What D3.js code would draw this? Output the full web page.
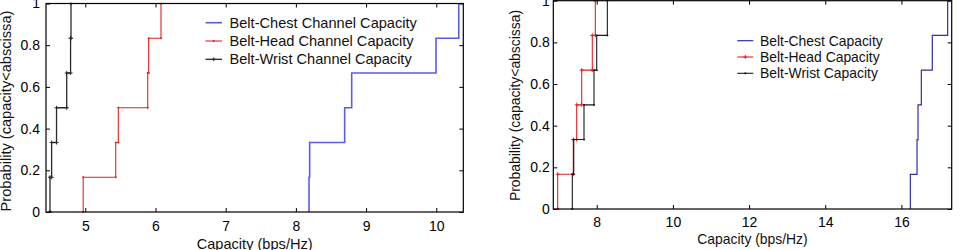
<!DOCTYPE html>
<html>
<head>
<meta charset="utf-8">
<script src="https://cdn.jsdelivr.net/npm/d3@7/dist/d3.min.js"></script>
<style>
  html, body { margin: 0; padding: 0; background: #fff; }
  svg { display: block; font-family: "Liberation Sans", Arial, Helvetica, sans-serif; }
</style>
</head>
<body>
<svg id="chart" width="960" height="250"></svg>
<script>
// ---- Data ----
const probLevels = [0, 0.1667, 0.3333, 0.5, 0.6667, 0.8333, 1];

const leftSeriesNames = ["Belt-Chest Channel Capacity", "Belt-Head Channel Capacity", "Belt-Wrist Channel Capacity"];
const leftChest = [8.187, 8.196, 8.695, 8.795, 9.996, 10.32];
const leftHead  = [4.97, 5.433, 5.47, 5.889, 5.903, 6.078];
const leftWrist = [4.497, 4.52, 4.59, 4.735, 4.79, 4.796];

const rightSeriesNames = ["Belt-Chest Capacity", "Belt-Head Capacity", "Belt-Wrist Capacity"];
const rightChest = [16.234, 16.41, 16.436, 16.523, 16.81, 17.214];
const rightHead  = [6.975, 7.385, 7.474, 7.606, 7.884, 7.963];
const rightWrist = [7.359, 7.396, 7.666, 7.929, 8.0, 8.279];

const leftXTicks = [5, 6, 7, 8, 9, 10];
const rightXTicks = [8, 10, 12, 14, 16];
const yTicks = [0, 0.2, 0.4, 0.6, 0.8, 1];
const yTickLabels = ["0", "0.2", "0.4", "0.6", "0.8", "1"];
const xAxisTitle = "Capacity (bps/Hz)";
const yAxisTitle = "Probability (capacity<abscissa)";

// ---- Drawing ----
const svg = d3.select("#chart");

function stepPoints(vals) {
  const pts = [[vals[0], probLevels[0]]];
  vals.forEach((v, i) => {
    pts.push([v, probLevels[i]]);
    pts.push([v, probLevels[i + 1]]);
  });
  return pts;
}

function drawPanel(cfg) {
  const x = d3.scaleLinear().domain(cfg.xDomain).range([cfg.x0, cfg.x1]);
  const y = d3.scaleLinear().domain([0, 1]).range([cfg.y0, cfg.y1]);
  const g = svg.append("g");
  const clipId = "clip" + cfg.id;
  svg.append("defs").append("clipPath").attr("id", clipId)
    .append("rect").attr("x", cfg.x0).attr("y", cfg.y1 - 1)
    .attr("width", cfg.x1 - cfg.x0).attr("height", cfg.y0 - cfg.y1 + 2);

  // axes with inward ticks
  const ax = (axis, tr) => {
    const a = g.append("g").attr("transform", tr).call(axis);
    a.select(".domain").remove();
    a.selectAll(".tick line").attr("stroke", "#000").attr("stroke-width", 1);
    a.selectAll("text").attr("fill", "#000").attr("font-size", cfg.tickFont + "px")
      .attr("font-family", "Liberation Sans, Arial, sans-serif");
    return a;
  };
  ax(d3.axisBottom(x).tickValues(cfg.xTicks).tickFormat(d3.format("d"))
      .tickSizeInner(-4).tickSizeOuter(0).tickPadding(cfg.xPad),
     `translate(0,${cfg.y0})`);
  ax(d3.axisTop(x).tickValues(cfg.xTicks).tickFormat("")
      .tickSizeInner(-4).tickSizeOuter(0), `translate(0,${cfg.y1})`);
  ax(d3.axisLeft(y).tickValues(yTicks).tickFormat((d, i) => yTickLabels[i])
      .tickSizeInner(-4).tickSizeOuter(0).tickPadding(cfg.yPad),
     `translate(${cfg.x0},0)`);
  ax(d3.axisRight(y).tickValues(yTicks).tickFormat("")
      .tickSizeInner(-4).tickSizeOuter(0), `translate(${cfg.x1},0)`);

  // series
  const line = d3.line().x(d => x(d[0])).y(d => y(d[1]));
  const sg = g.append("g").attr("clip-path", `url(#${clipId})`);
  cfg.series.forEach(s => {
    const pts = stepPoints(s.values);
    sg.append("path").attr("d", line(pts)).attr("fill", "none")
      .attr("stroke", s.color).attr("stroke-width", s.width);
    if (s.marker) {
      pts.slice(1).forEach(p => {
        const px = x(p[0]), py = y(p[1]);
        const m = s.marker;
        sg.append("path")
          .attr("d", `M${px - m},${py}H${px + m}M${px},${py - m}V${py + m}`)
          .attr("stroke", s.color).attr("stroke-width", 1);
      });
    }
  });

  // frame
  g.append("rect").attr("x", cfg.x0).attr("y", cfg.y1)
    .attr("width", cfg.x1 - cfg.x0).attr("height", cfg.y0 - cfg.y1)
    .attr("fill", "none").attr("stroke", "#000").attr("stroke-width", 1.2);

  // legend
  cfg.series.forEach((s, i) => {
    const ly = cfg.legY + i * cfg.legStep;
    g.append("line").attr("x1", cfg.legX).attr("x2", cfg.legX + cfg.legLen)
      .attr("y1", ly).attr("y2", ly).attr("stroke", s.color).attr("stroke-width", s.width);
    if (s.marker) {
      const mx = cfg.legX + cfg.legLen / 2, m = s.marker;
      g.append("path").attr("d", `M${mx - m},${ly}H${mx + m}M${mx},${ly - m}V${ly + m}`)
        .attr("stroke", s.color).attr("stroke-width", 1);
    }
    g.append("text").attr("x", cfg.legX + cfg.legLen + cfg.legGap).attr("y", ly + 5)
      .attr("font-size", cfg.legFont + "px").attr("fill", "#111").text(s.name);
  });

  // axis titles
  g.append("text").attr("x", (cfg.x0 + cfg.x1) / 2).attr("y", cfg.xTitleY)
    .attr("text-anchor", "middle").attr("font-size", cfg.titleFont + "px")
    .attr("fill", "#111").text(xAxisTitle);
  g.append("text").attr("transform", `translate(${cfg.yTitleX},${cfg.yTitleCY}) rotate(-90)`)
    .attr("text-anchor", "middle").attr("font-size", cfg.titleFont + "px")
    .attr("fill", "#111").text(yAxisTitle);
}

drawPanel({
  id: "L", xDomain: [4.44, 10.385], x0: 46, x1: 463.3, y0: 212, y1: 3.5,
  xTicks: leftXTicks, tickFont: 14, xPad: 9.5, yPad: 6,
  series: [
    { name: leftSeriesNames[0], values: leftChest, color: "#5b5bea", width: 1.6, marker: 0 },
    { name: leftSeriesNames[1], values: leftHead, color: "#e02424", width: 1.1, marker: 1 },
    { name: leftSeriesNames[2], values: leftWrist, color: "#2a2a2a", width: 1.3, marker: 2 }
  ],
  legX: 205.5, legLen: 16.5, legGap: 7.5, legY: 22.7, legStep: 18.3, legFont: 14.6,
  titleFont: 14.6, xTitleY: 249, yTitleX: 11, yTitleCY: 111
});

drawPanel({
  id: "R", xDomain: [6.86, 17.32], x0: 553.3, x1: 951.7, y0: 209, y1: 0.7,
  xTicks: rightXTicks, tickFont: 14, xPad: 7.7, yPad: 3.5,
  series: [
    { name: rightSeriesNames[0], values: rightChest, color: "#2e2ea6", width: 1.2, marker: 0 },
    { name: rightSeriesNames[1], values: rightHead, color: "#e02424", width: 1.1, marker: 2 },
    { name: rightSeriesNames[2], values: rightWrist, color: "#1a1a1a", width: 1.1, marker: 1 }
  ],
  legX: 737.3, legLen: 16, legGap: 6.7, legY: 40.7, legStep: 16.3, legFont: 13.9,
  titleFont: 13.9, xTitleY: 243.5, yTitleX: 520, yTitleCY: 105.5
});
</script>
</body>
</html>
